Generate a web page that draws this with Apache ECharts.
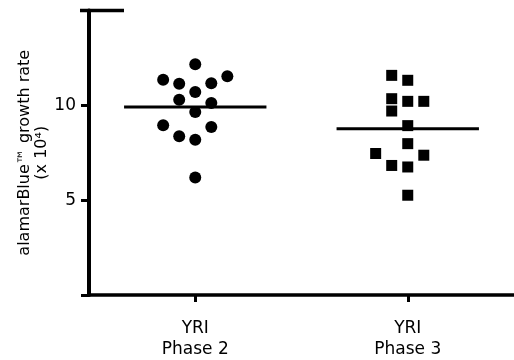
<!DOCTYPE html>
<html>
<head>
<meta charset="utf-8">
<script src="https://cdn.jsdelivr.net/npm/echarts@6/dist/echarts.min.js"></script>
<style>html,body{margin:0;padding:0;background:#fff}#c{width:514px;height:360px}</style>
</head>
<body>
<div id="c"></div>
<script>
const categories = ['YRI\nPhase 2', 'YRI\nPhase 3'];
const phase2Values = [12.16, 11.53, 11.35, 11.17, 11.14, 10.70, 10.30, 10.12, 9.65, 8.95, 8.86, 8.37, 8.19, 6.19];
const phase2Slots  = [0, 2, -2, 1, -1, 0, -1, 1, 0, -2, 1, -1, 0, 0];
const phase3Values = [11.58, 11.32, 10.35, 10.21, 10.21, 9.70, 8.93, 7.98, 7.46, 7.37, 6.83, 6.75, 5.26];
const phase3Slots  = [-1, 0, -1, 0, 1, -1, 0, 0, -2, 1, -1, 0, 0];
const yTicks = [5, 10];

const FONT = 'DejaVu Sans';
const slotWidth = 0.0755;
const meanHalf = 0.335;

function pts(pos, vals, slots) {
  return vals.map((v, i) => [pos + slots[i] * slotWidth, v]);
}
function mean(a) { return a.reduce((s, v) => s + v, 0) / a.length; }
function meanLine(pos, vals) {
  const m = mean(vals);
  return [[pos - meanHalf, m], [pos + meanHalf, m]];
}

const chart = echarts.init(document.getElementById('c'), null, {renderer: 'canvas'});
chart.setOption({
  animation: false,
  backgroundColor: '#fff',
  grid: {left: 89, right: 0, top: 10.5, bottom: 65, containLabel: false},
  xAxis: {
    type: 'value', min: 0.5, max: 2.5,
    splitLine: {show: false},
    axisLine: {show: true, lineStyle: {color: '#000', width: 3.5}},
    axisTick: {show: true, customValues: [1, 2], length: 7, lineStyle: {color: '#000', width: 3}},
    axisLabel: {
      customValues: [1, 2], margin: 23,
      formatter: v => categories[Math.round(v) - 1] || '',
      fontFamily: FONT, fontSize: 17, color: '#000', lineHeight: 21
    }
  },
  yAxis: {
    type: 'value', min: 0, max: 15, interval: 5,
    splitLine: {show: false},
    axisLine: {show: true, onZero: false, lineStyle: {color: '#000', width: 4}},
    axisTick: {show: true, length: 8, lineStyle: {color: '#000', width: 3}},
    axisLabel: {
      margin: 13, fontFamily: FONT, fontSize: 17, color: '#000',
      formatter: v => yTicks.includes(v) ? String(v) : ''
    },
    name: 'alamarBlue\u2122 growth rate\n(x 10\u2074)',
    nameLocation: 'middle', nameRotate: 90, nameGap: 39, nameMoveOverlap: false,
    nameTextStyle: {fontFamily: FONT, fontSize: 16, color: '#000', lineHeight: 17, align: 'center'}
  },
  graphic: [{
    type: 'line', z: 10,
    shape: {x1: 80, y1: 10.5, x2: 124, y2: 10.5},
    style: {stroke: '#000', lineWidth: 3.5}
  }],
  series: [
    {type: 'scatter', symbol: 'circle', symbolSize: 12, itemStyle: {color: '#000', opacity: 1},
     data: pts(1, phase2Values, phase2Slots), z: 3},
    {type: 'scatter', symbol: 'rect', symbolSize: 11, itemStyle: {color: '#000', opacity: 1},
     data: pts(2, phase3Values, phase3Slots), z: 3},
    {type: 'line', data: meanLine(1, phase2Values), symbol: 'none',
     lineStyle: {color: '#000', width: 3}, z: 4},
    {type: 'line', data: meanLine(2, phase3Values), symbol: 'none',
     lineStyle: {color: '#000', width: 3}, z: 4}
  ]
});
</script>
</body>
</html>
